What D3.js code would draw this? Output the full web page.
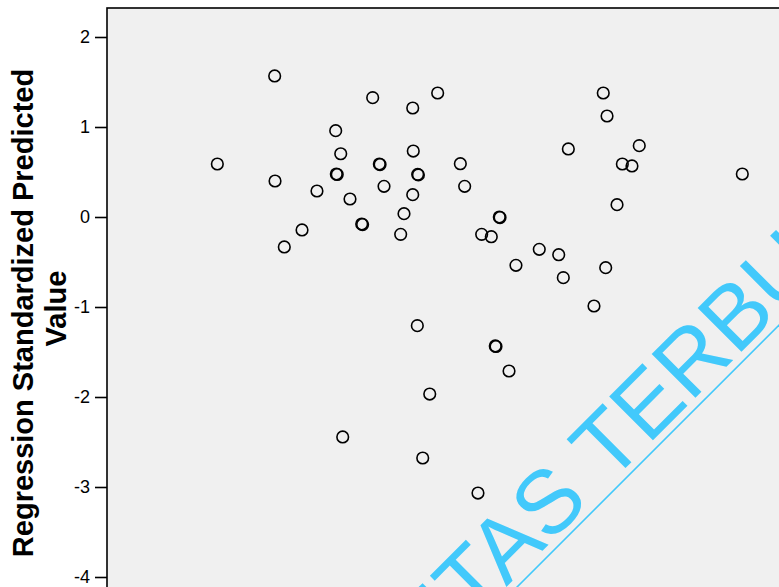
<!DOCTYPE html>
<html>
<head>
<meta charset="utf-8">
<script src="https://cdn.jsdelivr.net/npm/d3@7"></script>
<style>
  body { margin: 0; background: #fff; }
  text { font-family: Arial, "Liberation Sans", sans-serif; }
</style>
</head>
<body>
<div id="scatter"></div>
<script>
// Data (x axis is cropped away, so x is in arbitrary standardized units)
const xValues = [
  -2.774, -2.137, -2.133, -2.030, -1.833, -1.667, -1.459, -1.452, -1.442, -1.403,
  -1.381, -1.300, -1.170, -1.160, -1.048, -0.974, -0.966, -0.922, -0.737, -0.700,
  -0.603, -0.597, -0.603, -0.548, -0.540, -0.552, -0.492, -0.414, -0.326, -0.074,
  -0.026, 0.122, 0.163, 0.270, 0.314, 0.322, 0.359, 0.367, 0.467, 0.544,
  0.803, 1.019, 1.070, 1.126, 1.411, 1.514, 1.541, 1.556, 1.667, 1.726,
  1.833, 1.914, 3.059
];
const yValues = [
  0.589, 1.567, 0.400, -0.333, -0.144, 0.289, 0.959, 0.478, 0.472, 0.703,
  -2.444, 0.200, -0.078, -0.084, 1.326, 0.589, 0.583, 0.341, -0.193, 0.037,
  1.211, 0.733, 0.248, 0.474, 0.468, -1.207, -2.678, -1.967, 1.378, 0.592,
  0.341, -3.067, -0.193, -0.219, -1.433, -1.439, 0.000, -0.006, -1.711, -0.537,
  -0.359, -0.419, -0.674, 0.756, -0.989, 1.378, -0.563, 1.122, 0.137, 0.589,
  0.567, 0.793, 0.478
];
const yTicks = [2, 1, 0, -1, -2, -3, -4];
const yTitleLines = ["Regression Standardized Predicted", "Value"];
const watermarkWords = ["UNIVERSITAS", "TERBUKA"];

const points = xValues.map((x, i) => ({ x: x, y: yValues[i] }));

// Dimensions (plot area runs past the right and bottom edges of the picture)
const width = 779, height = 587;
const plotLeft = 107, plotTop = 8;

const svg = d3.select("#scatter")
    .append("svg")
    .attr("width", width)
    .attr("height", height);

// Scales
const xScale = d3.scaleLinear()
    .domain([-4, 4])
    .range([plotLeft, plotLeft + 720]);

const yScale = d3.scaleLinear()
    .domain([-4, 2])
    .range([577, 37]);

// Plot background and frame
svg.append("rect")
    .attr("x", plotLeft)
    .attr("y", plotTop)
    .attr("width", width + 20)
    .attr("height", height + 20)
    .attr("fill", "#f0f0f0")
    .attr("stroke", "#000")
    .attr("stroke-width", 1.6);

// Y axis
const yAxis = svg.append("g")
    .attr("transform", "translate(" + plotLeft + ",0)")
    .call(d3.axisLeft(yScale)
        .tickValues(yTicks)
        .tickSize(12)
        .tickPadding(5)
        .tickFormat(d => String(d)));

yAxis.select(".domain").remove();
yAxis.selectAll(".tick line").attr("stroke", "#000").attr("stroke-width", 1.6);
yAxis.selectAll(".tick text")
    .attr("fill", "#000")
    .style("font-family", "Arial, 'Liberation Sans', sans-serif")
    .style("font-size", "18px");

// Y axis title, two lines
svg.append("text")
    .attr("transform", "translate(33,313) rotate(-90)")
    .style("text-anchor", "middle")
    .style("font-size", "29px")
    .style("font-weight", "bold")
    .text(yTitleLines[0]);

svg.append("text")
    .attr("transform", "translate(66,308.5) rotate(-90)")
    .style("text-anchor", "middle")
    .style("font-size", "29px")
    .style("font-weight", "bold")
    .text(yTitleLines[1]);

// Watermark
const mark = svg.append("g")
    .attr("transform", "translate(608.9,484.4) rotate(-45)")
    .attr("fill", "#42c9fb");

mark.append("text")
    .attr("x", -25)
    .style("text-anchor", "end")
    .style("font-size", "90px")
    .text(watermarkWords[0]);

mark.append("text")
    .attr("x", 0)
    .style("text-anchor", "start")
    .style("font-size", "90px")
    .text(watermarkWords[1]);

mark.append("line")
    .attr("x1", -700)
    .attr("x2", 700)
    .attr("y1", 7.6)
    .attr("y2", 7.6)
    .attr("stroke", "#42c9fb")
    .attr("stroke-width", 1.6);

// Points
svg.append("g")
    .selectAll("circle")
    .data(points)
    .enter()
    .append("circle")
    .attr("cx", d => xScale(d.x))
    .attr("cy", d => yScale(d.y))
    .attr("r", 5.8)
    .attr("fill", "none")
    .attr("stroke", "#000")
    .attr("stroke-width", 1.6);
</script>
</body>
</html>
